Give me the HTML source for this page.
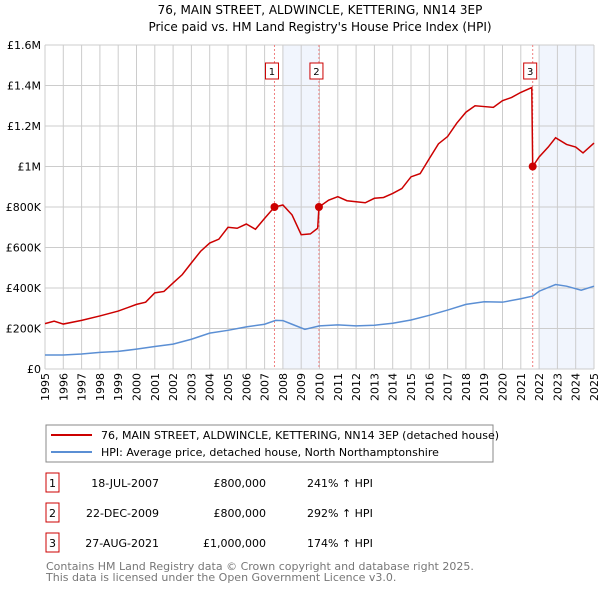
<!DOCTYPE html>
<html><head><meta charset="utf-8"><style>
body{margin:0;background:#fff;font-family:"Liberation Sans","DejaVu Sans",sans-serif;}
svg text{font-family:"DejaVu Sans","Liberation Sans",sans-serif;}
</style></head><body>
<svg id="c" width="600" height="590" xmlns="http://www.w3.org/2000/svg">
<text x="320" y="14" text-anchor="middle" font-size="12">76, MAIN STREET, ALDWINCLE, KETTERING, NN14 3EP</text>
<text x="320" y="31" text-anchor="middle" font-size="12">Price paid vs. HM Land Registry's House Price Index (HPI)</text>
<g id="plot"></g>
<g>
<rect x="46" y="425" width="447" height="37" fill="#fff" stroke="#888"/>
<line x1="51" y1="435" x2="92" y2="435" stroke="#cc0000" stroke-width="2"/>
<text x="101" y="439" font-size="11">76, MAIN STREET, ALDWINCLE, KETTERING, NN14 3EP (detached house)</text>
<line x1="51" y1="452" x2="92" y2="452" stroke="#5b8fd4" stroke-width="2"/>
<text x="101" y="456" font-size="11">HPI: Average price, detached house, North Northamptonshire</text>
</g>
<g id="table" font-size="11"></g>
<text x="46" y="570" font-size="11" fill="#777">Contains HM Land Registry data © Crown copyright and database right 2025.</text>
<text x="46" y="581" font-size="11" fill="#777">This data is licensed under the Open Government Licence v3.0.</text>
</svg>
<script>
const hpiYears=[1995,1996,1997,1998,1999,2000,2001,2002,2003,2004,2005,2006,2007,2007.6,2008,2008.5,2009.2,2010,2011,2012,2013,2014,2015,2016,2017,2018,2019,2020,2021,2021.65,2022,2022.9,2023.5,2024.3,2025];
const hpiValues=[69,69,74,82,87,98,111,123,147,177,191,208,221,240,239,221,196,213,218,213,216,226,242,265,291,319,332,330,347,360,384,417,409,389,409];
const propYears=[1995,1995.5,1996,1997,1998,1999,2000,2000.5,2001,2001.5,2002,2002.5,2003,2003.5,2004,2004.5,2005,2005.5,2006,2006.5,2007,2007.54,2008,2008.5,2009,2009.5,2009.9,2009.97,2010.5,2011,2011.5,2012,2012.5,2013,2013.5,2014,2014.5,2015,2015.5,2016,2016.5,2017,2017.5,2018,2018.5,2019,2019.5,2020,2020.5,2021,2021.6,2021.65,2022,2022.5,2022.9,2023.5,2024,2024.4,2025];
const propValues=[224,236,222,240,262,286,319,330,376,383,425,466,524,581,622,641,700,695,716,690,744,800,810,761,663,667,695,800,834,851,831,826,821,843,847,867,891,949,965,1039,1112,1148,1214,1268,1300,1296,1292,1325,1341,1366,1390,1000,1047,1096,1142,1109,1096,1067,1116];
const saleIds=["1","2","3"];
const saleYears=[2007.54,2009.97,2021.65];
const saleValues=[800,800,1000];
const saleDates=["18-JUL-2007","22-DEC-2009","27-AUG-2021"];
const salePrices=["£800,000","£800,000","£1,000,000"];
const saleHpi=["241% ↑ HPI","292% ↑ HPI","174% ↑ HPI"];
const yTicks=[0,200,400,600,800,1000,1200,1400,1600];
const yLabels=["£0","£200K","£400K","£600K","£800K","£1M","£1.2M","£1.4M","£1.6M"];
const xTicks=[1995,1996,1997,1998,1999,2000,2001,2002,2003,2004,2005,2006,2007,2008,2009,2010,2011,2012,2013,2014,2015,2016,2017,2018,2019,2020,2021,2022,2023,2024,2025];

const L=45,R=594,T=45,B=369;
const X=y=>L+(y-1995)/30*(R-L);
const Y=v=>B-v/1600*(B-T);
const NS="http://www.w3.org/2000/svg";
const g=document.getElementById('plot');
function mk(tag,attrs,parent){const e=document.createElementNS(NS,tag);for(const k in attrs)e.setAttribute(k,attrs[k]);(parent||g).appendChild(e);return e;}
let s1=mk('rect',{x:X(2008),y:T,width:X(saleYears[1])-X(2008),height:B-T,fill:'#eef3fc',opacity:0.8});


let s2=mk('rect',{x:X(2022),y:T,width:R-X(2022),height:B-T,fill:'#eef3fc',opacity:0.8});


xTicks.forEach((t,i)=>{
 let l=mk('line',{x1:X(t),x2:X(t),y1:T,y2:B,stroke:'#ccc','stroke-width':1});
 
 
 let tx=mk('text',{x:0,y:0,'text-anchor':'end','font-size':11,transform:`translate(${X(t)+4},${B+4}) rotate(-90)`});
 tx.textContent=t;
 
 
});
yTicks.forEach((t,i)=>{
 let l=mk('line',{x1:L,x2:R,y1:Y(t),y2:Y(t),stroke:'#ccc','stroke-width':1});
 
 
 let tx=mk('text',{x:L-4,y:Y(t)+4,'text-anchor':'end','font-size':11});
 tx.textContent=yLabels[i];
 
 
});
saleYears.forEach((s,i)=>{
 let l=mk('line',{x1:X(s),x2:X(s),y1:T,y2:B,stroke:'#f08080','stroke-width':1,'stroke-dasharray':'2,2'});
 
 
 let r=mk('rect',{x:X(s)-9,y:63,width:13,height:16,fill:'#fff',stroke:'#cc0000'});
 
 
 let t=mk('text',{x:X(s)-2.5,y:75,'text-anchor':'middle','font-size':10});
 t.textContent=saleIds[i];
 
 
});
let hp=mk('polyline',{points:hpiYears.map((y,i)=>X(y)+','+Y(hpiValues[i])).join(' '),fill:'none',stroke:'#5b8fd4','stroke-width':1.5});


let pp=mk('polyline',{points:propYears.map((y,i)=>X(y)+','+Y(propValues[i])).join(' '),fill:'none',stroke:'#cc0000','stroke-width':1.5});


saleYears.forEach((s,i)=>{
 let c=mk('circle',{cx:X(s),cy:Y(saleValues[i]),r:4,fill:'#cc0000'});
 
 
});
const tb=document.getElementById('table');
saleIds.forEach((id,i)=>{
 const y=483+i*30;
 let r=mk('rect',{x:46,y:y-10,width:13,height:19,fill:'#fff',stroke:'#cc0000'},tb);
 
 
 const cells=[[52.5,id,'middle'],[159,saleDates[i],'end'],[266,salePrices[i],'end'],[307,saleHpi[i],'start']];
 cells.forEach(c=>{
  let t=mk('text',{x:c[0],y:y+4,'text-anchor':c[2]},tb);
  t.textContent=c[1];
  
  
 });
});
</script>
</body></html>
